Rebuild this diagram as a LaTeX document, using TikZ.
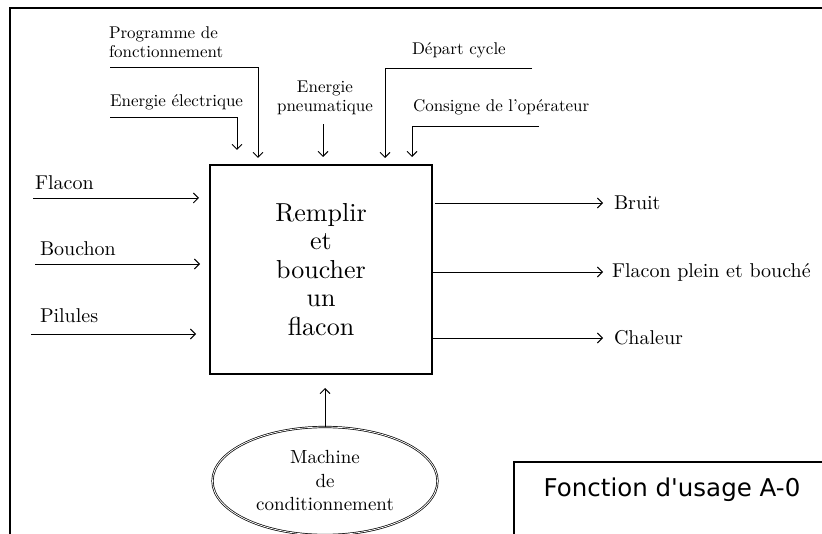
\documentclass[tikz,border=0pt]{standalone}
\usepackage{fontspec}
\setmainfont{lmroman10}[Extension=.otf, UprightFont=*-regular,
  BoldFont=*-bold, ItalicFont=*-italic]
\newfontfamily\usagefont{DejaVu Sans}
\usetikzlibrary{arrows.meta,shapes.geometric}
\tikzset{
  sadt diagram/.style={
    x=1pt, y=-1pt, line width=0.9pt,
    >={Straight Barb[length=5pt,width=10pt]},
    every node/.style={inner sep=0pt, outer sep=0pt}
  },
  sadt frame/.style={line width=2pt},
  sadt box/.style={draw, line width=1.1pt, align=center,
    font=\fontsize{26}{28.5}\selectfont},
  sadt support/.style={draw, ellipse, double, double distance=0.8pt,
    line width=0.7pt, align=center, font=\fontsize{19}{23.5}\selectfont},
  sadt label/.style={font=\fontsize{20}{24}\selectfont},
  sadt control/.style={font=\fontsize{17}{19.5}\selectfont, align=left},
  sadt title/.style={font=\usagefont\fontsize{24.5}{27}\selectfont}
}

\begin{document}
\begin{tikzpicture}[sadt diagram]
    \useasboundingbox (0,0) rectangle (822,534);
    \clip (0,0) rectangle (822,534);
    \draw[sadt frame] (822,8) -- (10,8) -- (10,540);
    % function box
    \node[sadt box, minimum width=222pt, minimum height=209pt] (fct) at (321,269.5)
      {Remplir\\et\\boucher\\un\\flacon};
    % inputs
    \node[sadt label, anchor=west] (flacon) at (35,183) {Flacon};
    \node[sadt label, anchor=west] (bouchon) at (40,249) {Bouchon};
    \node[sadt label, anchor=west] (pilules) at (40,316) {Pilules};
    \coordinate (flacon in) at (33,198);
    \coordinate (bouchon in) at (35,264);
    \coordinate (pilules in) at (31,334);
    \draw[->, shorten >=11pt] (flacon in) -- (flacon in -| fct.west);
    \draw[->, shorten >=10pt] (bouchon in) -- (bouchon in -| fct.west);
    \draw[->, shorten >=14pt] (pilules in) -- (pilules in -| fct.west);
    % outputs
    \node[sadt label, anchor=west] (bruit) at (614,203) {Bruit};
    \node[sadt label, anchor=west] (plein) at (612,272) {Flacon plein et bouché};
    \node[sadt label, anchor=west] (chaleur) at (614,338) {Chaleur};
    \draw[->, shorten <=3pt, shorten >=11pt] (fct.east |- bruit.west) -- (bruit.west);
    \draw[->, shorten >=9pt] (fct.east |- plein.west) -- (plein.west);
    \draw[->, shorten >=11pt] (fct.east |- chaleur.west) -- (chaleur.west);
    % controls
    \node[sadt control, anchor=west] (prog) at (109,42) {Programme de\\fonctionnement};
    \node[sadt control, anchor=west] (elec) at (110,102) {Energie électrique};
    \node[sadt control, align=center] (pneu) at (325,98) {Energie\\pneumatique};
    \node[sadt control, anchor=west] (depart) at (412,50) {Départ cycle};
    \node[sadt control, anchor=west] (consigne) at (413,107) {Consigne de l'opérateur};
    \coordinate (prog in) at (110,67);
    \coordinate (prog tip) at (258,158);
    \coordinate (elec in) at (110,117);
    \coordinate (elec tip) at (237,150);
    \coordinate (depart in) at (532,68);
    \coordinate (depart tip) at (385,158);
    \coordinate (consigne in) at (539,126);
    \coordinate (consigne tip) at (412,157);
    \draw[->] (prog in) -| (prog tip);
    \draw[->] (elec in) -| (elec tip);
    \draw[->] (depart in) -| (depart tip);
    \draw[->] (consigne in) -| (consigne tip);
    \draw[->, shorten <=9pt, shorten >=8pt] (pneu.south -| 323,0) -- (323,0 |- fct.north);
    % support
    \node[sadt support, minimum width=225pt, minimum height=108pt] (mach) at (325,481)
      {Machine\\de\\conditionnement};
    \draw[->, shorten >=14pt] (mach.north) -- (mach.north |- fct.south);
    % title
    \node[draw, line width=1.3pt, anchor=north west, minimum width=330pt,
      minimum height=100pt] (usage) at (514,462) {};
    \node[sadt title] (usage txt) at (672,490) {Fonction d'usage A-0};
\end{tikzpicture}
\end{document}
